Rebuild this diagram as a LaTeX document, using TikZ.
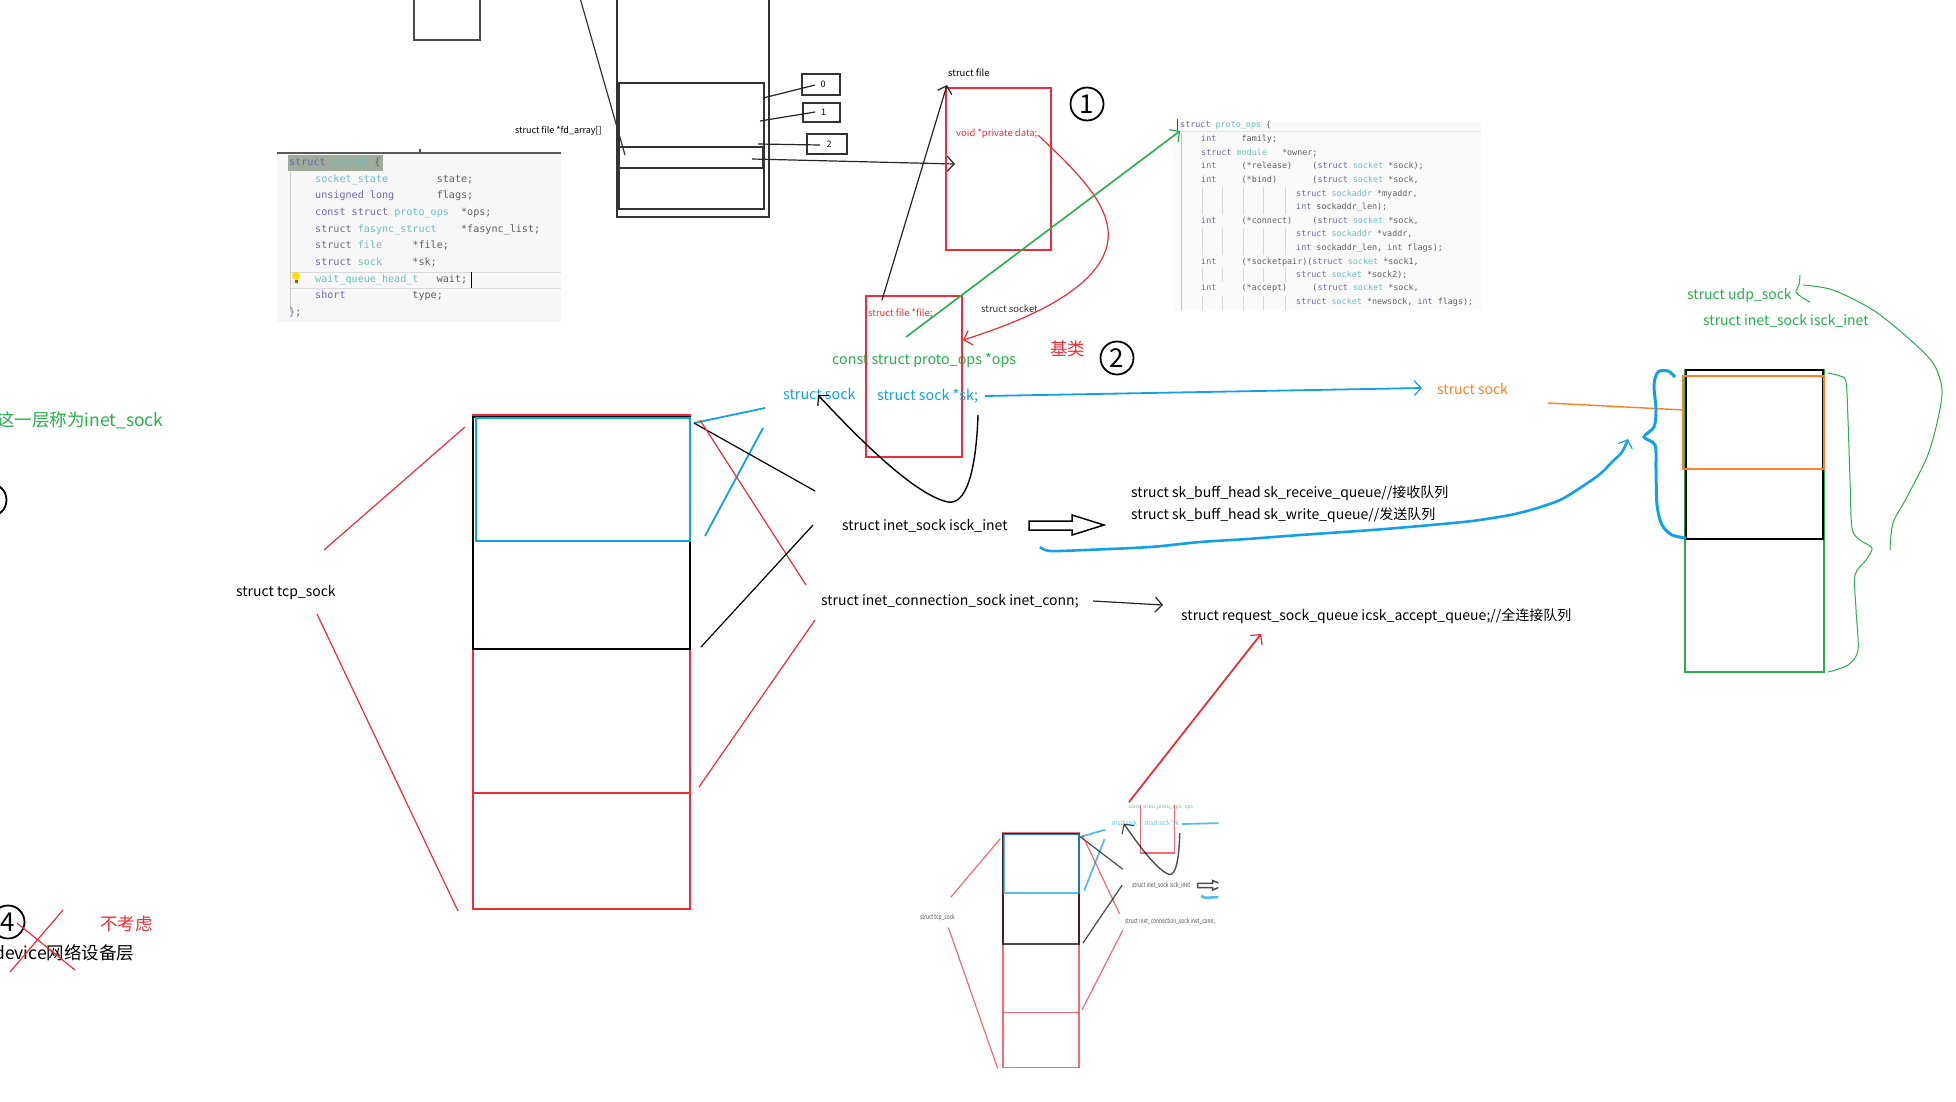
\documentclass[tikz,border=0pt]{standalone}
\usepackage{fontspec}
\setmainfont{Noto Sans CJK SC}
\setmonofont{DejaVu Sans Mono}
\usetikzlibrary{arrows.meta}
\definecolor{pred}{RGB}{237,45,55}
\definecolor{pblue}{RGB}{20,160,230}
\definecolor{pgreen}{RGB}{40,175,75}
\definecolor{porange}{RGB}{255,127,39}
\definecolor{kw}{RGB}{105,105,175}
\definecolor{ty}{RGB}{110,190,190}
\definecolor{idc}{RGB}{95,95,95}
\definecolor{hl}{RGB}{160,172,155}
\newcommand{\kwd}[1]{\textcolor{kw}{#1}}
\newcommand{\typ}[1]{\textcolor{ty}{#1}}
\tikzset{
  lbl/.style={inner sep=0pt, anchor=west, font=\fontsize{14}{16}\selectfont, text height=12.5pt, text depth=0.2pt},
  bigl/.style={inner sep=0pt, anchor=west, font=\fontsize{17.5}{20}\selectfont, text height=15.5pt, text depth=0.4pt},
  sm/.style={inner sep=0pt, anchor=west, font=\fontsize{9.5}{11}\selectfont, text height=7.6pt, text depth=1.4pt},
  codeA/.style={inner sep=0pt, anchor=west, text=idc, font=\ttfamily\fontsize{10.1}{12}\selectfont\frenchspacing, text height=7.5pt, text depth=2.5pt},
  codeB/.style={inner sep=0pt, anchor=west, text=idc, font=\ttfamily\fontsize{8.4}{10}\selectfont\frenchspacing, text height=6.2pt, text depth=2pt},
  box/.style={draw, inner sep=0pt, line width=1.2pt},
  thin/.style={line width=1.2pt},
  arr/.style={-{Straight Barb[length=7pt,width=15pt,line width=1.2pt]}},
  circ/.style={circle, draw, line width=1.8pt, inner sep=0pt, minimum size=33pt, font=\fontsize{26}{26}\selectfont},
}
\newcommand{\midpart}[1]{%
  \node[box, draw=pred, minimum width=217, minimum height=494] (#1tcp) at (581.5,662) {};
  \draw[pred, thin] (473,793) -- (690,793);
  \node[box, draw=black, line width=1.6pt, minimum width=217, minimum height=232] (#1isk) at (581.5,533) {};
  \node[box, draw=pblue, line width=1.4pt, minimum width=214, minimum height=123] (#1sk) at (583,479.5) {};
  \node[lbl] (#1tcplbl) at (236,590) {struct tcp\_sock};
  \draw[pred, thin] (324,550) -- (465,427);
  \draw[pred, thin] (317,614) -- (458,911);
  \draw[pblue, line width=1.8pt] (694,423) -- (765,408);
  \draw[pblue, line width=1.8pt] (705,536) -- (763,428);
  \draw[black, thin] (694,423) -- (815,491);
  \draw[pred, thin] (700,420) -- (806,585);
  \draw[black, thin] (701,647) -- (813,525);
  \draw[pred, thin] (699,787) -- (815,620);
  \node[lbl, text=pgreen, font=\fontsize{14.3}{16}\selectfont] (#1ops) at (832,358) {const struct proto\_ops *ops};
  \node[box, draw=pred, minimum width=96, minimum height=161] (#1sock) at (914,376.5) {};
  \node[lbl, text=pblue, font=\fontsize{14.3}{16}\selectfont] (#1sockb) at (783,393) {struct sock};
  \node[lbl, text=pblue, font=\fontsize{14.3}{16}\selectfont] (#1skp) at (877,394) {struct sock *sk;};
  \draw[pblue, line width=1.8pt, arr] (985,396) -- (1422,388);
  \draw[black, line width=1.4pt, arr] (978,415) .. controls (976,475) and (965,505) .. (948,502) .. controls (915,495) and (860,440) .. (818,395);
  \node[lbl] (#1inet) at (842,524) {struct inet\_sock isck\_inet};
  \draw[line width=1.5pt] (1029,521) -- (1072,521) -- (1072,515) -- (1104,525) -- (1072,535) -- (1072,530) -- (1029,530) -- cycle;
  \node[lbl] (#1conn) at (821,599) {struct inet\_connection\_sock inet\_conn;};
  \draw[pblue, line width=2.6pt, arr] plot[smooth] coordinates {(1040,547) (1050,551) (1085,550) (1150,547) (1200,542) (1247,539) (1300,535) (1372,530) (1420,526) (1472,521) (1510,515) (1534,509) (1560,500) (1580,488) (1600,474) (1612,462) (1622,452) (1628,439)};
}
\begin{document}
\begin{tikzpicture}[x=1pt,y=-1pt]
\useasboundingbox (0,0) rectangle (1956,1101);
\fill[white] (0,0) rectangle (1956,1101);

% ---- top-left boxes (process / fd table) ----
\node[box, draw=black!70, minimum width=66, minimum height=45] (topbox) at (447,17.5) {};
\node[box, draw=black!80, minimum width=152, minimum height=222] (task) at (693,106) {};
\node[box, draw=black!80, minimum width=145, minimum height=126] (files) at (691.5,146) {};
\node[box, draw=black!80, minimum width=144, minimum height=21] (slot) at (691,157.5) {};
\draw[black!80, thin] (580,-2) -- (625,155);
\node[sm, font=\fontsize{9}{11}\selectfont] (fdlbl) at (515,130) {struct file *fd\_array[]};
\node[box, draw=black!80, minimum width=38, minimum height=21, font=\fontsize{9}{11}\selectfont] (b0) at (821,84.5) {\hspace{4pt}0};
\node[box, draw=black!80, minimum width=37, minimum height=19, font=\fontsize{9}{11}\selectfont] (b1) at (821.5,112.5) {\hspace{4pt}1};
\node[box, draw=black!80, minimum width=40, minimum height=20, font=\fontsize{9}{11}\selectfont] (b2) at (827,144) {\hspace{4pt}2};
\draw[black!85, thin] (763,98) -- (815,85);
\draw[black!85, thin] (760,121) -- (815,112);
\draw[black!85, thin] (758,144) -- (820,145);
\draw[black!85, thin, arr] (752,159) -- (955,164);

% ---- struct socket code ----
\fill[black!3] (277,153) rectangle (561,322);
\draw[black!65, line width=2pt] (277,153) -- (561,153);
\fill[black!70] (419,149) rectangle (421,152);
\draw[black!15] (290,272) -- (561,272);
\draw[black!15] (290,288) -- (561,288);
\draw[black!20] (290,172) -- (290,312);
\fill[hl] (288,155) rectangle (383,171);
\node[codeA] (s1) at (289,163) {\kwd{struct} \typ{socket} \{};
\node[codeA] (s2) at (315,180) {\typ{socket\_state}~~~~~~~~state;};
\node[codeA] (s3) at (315,196) {\kwd{unsigned long}~~~~~~~flags;};
\node[codeA] (s4) at (315,213) {\kwd{const struct} \typ{proto\_ops}~~*ops;};
\node[codeA] (s5) at (315,230) {\kwd{struct} \typ{fasync\_struct}~~~~*fasync\_list;};
\node[codeA] (s6) at (315,246) {\kwd{struct} \typ{file}~~~~~*file;};
\node[codeA] (s7) at (315,263) {\kwd{struct} \typ{sock}~~~~~*sk;};
\node[codeA] (s8) at (315,280) {\typ{wait\_queue\_head\_t}~~~wait;};
\node[codeA] (s9) at (315,296) {\kwd{short}~~~~~~~~~~~type;};
\node[codeA] (s10) at (289,313) {\kwd{\}};};
\draw[black, line width=0.9pt] (471,272) -- (471,288);
\fill[yellow!80!orange] (296,276) circle (4);
\fill[orange!70!black] (294.5,280) rectangle (297.5,283);

% ---- struct proto_ops code ----
\fill[black!2] (1173,121) rectangle (1481,310);
\draw[black!10] (1180,131) -- (1481,131);
\draw[black!25] (1181,133) -- (1181,310);
\foreach \gx in {1202,1222,1243,1263,1285}{
  \draw[black!15] (\gx,187) -- (\gx,214);
  \draw[black!15] (\gx,228) -- (\gx,255);
  \draw[black!15] (\gx,268) -- (\gx,282);
  \draw[black!15] (\gx,296) -- (\gx,310);
}
\draw[black!70, line width=0.7pt] (1177,119) -- (1177,131);
\node[codeB] (p1) at (1180,125) {\kwd{struct} \typ{proto\_ops} \{};
\node[codeB] (p2) at (1201,139) {\kwd{int}~~~~~family;};
\node[codeB] (p3) at (1201,153) {\kwd{struct} \typ{module}~~~*owner;};
\node[codeB] (p4) at (1201,166) {\kwd{int}~~~~~(*release)~~~~(\kwd{struct} \typ{socket} *sock);};
\node[codeB] (p5) at (1201,180) {\kwd{int}~~~~~(*bind)~~~~~~~(\kwd{struct} \typ{socket} *sock,};
\node[codeB] (p6) at (1296,194) {\kwd{struct} \typ{sockaddr} *myaddr,};
\node[codeB] (p7) at (1296,207) {\kwd{int} sockaddr\_len);};
\node[codeB] (p8) at (1201,221) {\kwd{int}~~~~~(*connect)~~~~(\kwd{struct} \typ{socket} *sock,};
\node[codeB] (p9) at (1296,234) {\kwd{struct} \typ{sockaddr} *vaddr,};
\node[codeB] (p10) at (1296,248) {\kwd{int} sockaddr\_len, \kwd{int} flags);};
\node[codeB] (p11) at (1201,262) {\kwd{int}~~~~~(*socketpair)(\kwd{struct} \typ{socket} *sock1,};
\node[codeB] (p12) at (1296,275) {\kwd{struct} \typ{socket} *sock2);};
\node[codeB] (p13) at (1201,288) {\kwd{int}~~~~~(*accept)~~~~~(\kwd{struct} \typ{socket} *sock,};
\node[codeB] (p14) at (1296,302) {\kwd{struct} \typ{socket} *newsock, \kwd{int} flags);};

% ---- struct file ----
\node[sm] (sfilelbl) at (948,73) {struct file};
\node[box, draw=pred, minimum width=105, minimum height=162] (sfile) at (998.5,169) {};
\node[sm, text=pred] (priv) at (956,133) {void *private data;};
\node[circ] (n1) at (1087,104) {1};
\node[circ] (n2) at (1117,358) {2};

% ---- middle (main) ----
\midpart{m}
\node[sm, text=pred] (filep) at (868,313) {struct file *file;};
\node[sm, text=black!80] (socklbl) at (981,309) {struct socket};
\node[bigl, text=pred] (jilei) at (1050,348) {基类};
\draw[black!85, thin, arr] (882,300) -- (947,85);
\draw[pred, thin, arr] (1038,135) .. controls (1075,170) and (1112,205) .. (1108,240) .. controls (1102,290) and (1020,322) .. (963,340);
\draw[pgreen, line width=1.6pt, arr] (906,337) -- (1180,131);
\draw[black!85, thin, arr] (1093,601) -- (1163,605);
\node[lbl] (rq) at (1131,491) {struct sk\_buff\_head sk\_receive\_queue//接收队列};
\node[lbl] (wq) at (1131,513) {struct sk\_buff\_head sk\_write\_queue//发送队列};
\node[lbl] (aq) at (1181,614) {struct request\_sock\_queue icsk\_accept\_queue;//全连接队列};
\node[lbl, text=porange] (osock) at (1437,388) {struct sock};
\draw[porange, line width=1.4pt] (1548,403) -- (1684,410);

% ---- udp block ----
\node[box, draw=pgreen, line width=1.8pt, minimum width=139, minimum height=302] (udp) at (1754.5,521) {};
\node[box, draw=black, line width=1.8pt, minimum width=137, minimum height=169] (udpinet) at (1754.5,454.5) {};
\node[box, draw=porange, line width=1.4pt, minimum width=141, minimum height=93] (udpsock) at (1753.5,422.5) {};
\draw[pblue, line width=3pt] plot[smooth] coordinates {(1675,377) (1668,371) (1658,372) (1654,385) (1656,410) (1654,427) (1644,437) (1655,445) (1656,470) (1657,505) (1662,525) (1672,535) (1686,538)};
\draw[pgreen, line width=1pt] plot[smooth] coordinates {(1828,373) (1840,376) (1846,382) (1848,420) (1850,480) (1852,528) (1860,540) (1872,548) (1866,560) (1855,575) (1856,610) (1858,650) (1848,665) (1828,672)};
\draw[pgreen, line width=1pt] plot[smooth] coordinates {(1890,550) (1893,523) (1907,497) (1927,457) (1937,423) (1942,390) (1933,363) (1907,337) (1873,310) (1833,290) (1803,285)};
\draw[pgreen, line width=1pt] plot[smooth] coordinates {(1800,275) (1799,285) (1796,292) (1803,298) (1810,302)};
\node[lbl, text=pgreen] (udplbl) at (1687,293) {struct udp\_sock};
\node[lbl, text=pgreen] (udpinetlbl) at (1703,319) {struct inet\_sock isck\_inet};

% ---- left edge ----
\node[bigl, text=pgreen] (layer) at (-3,419) {这一层称为inet\_sock};
\node[circ] (n3) at (-10,500) {3};
\node[circ] (n4) at (8,922) {4};
\node[bigl] (dev) at (-6,952) {device网络设备层};
\draw[pred, thin] (10,972) -- (63,910);
\draw[pred, thin] (17,923) -- (75,970);
\node[bigl, text=pred] (nokao) at (100,923) {不考虑};

% ---- thumbnail ----
\begin{scope}[shift={(837.45,635.9)}, xscale=0.35, yscale=0.475, transform shape, opacity=0.7]
  \clip (225,356) rectangle (1088,912);
  \midpart{t}
\end{scope}
\draw[pred, line width=1.8pt, arr] (1129,802) -- (1261,634);
\end{tikzpicture}
\end{document}
